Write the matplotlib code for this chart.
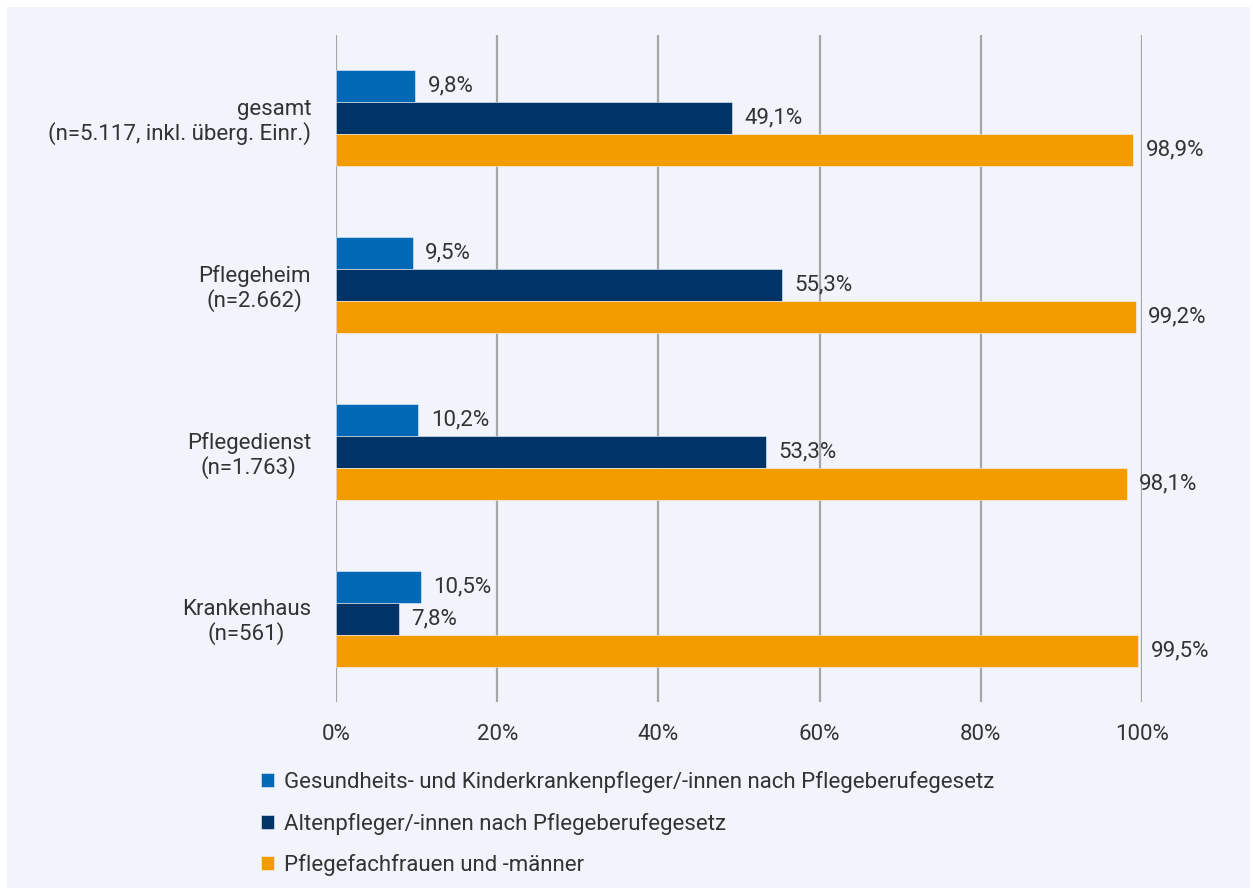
import matplotlib.pyplot as plt
from matplotlib.patches import Rectangle
import numpy as np

# data
categories = ['gesamt\n(n=5.117, inkl. überg. Einr.)', 'Pflegeheim\n(n=2.662)',
              'Pflegedienst\n(n=1.763)', 'Krankenhaus\n(n=561)']
gkp = [9.8, 9.5, 10.2, 10.5]
alten = [49.1, 55.3, 53.3, 7.8]
fach = [98.9, 99.2, 98.1, 99.5]
series_names = ['Gesundheits- und Kinderkrankenpfleger/-innen nach Pflegeberufegesetz',
                'Altenpfleger/-innen nach Pflegeberufegesetz',
                'Pflegefachfrauen und -männer']
colors = ['#0068b4', '#003366', '#f39c00']
xticks = [0, 20, 40, 60, 80, 100]

plt.rcParams['font.family'] = ['Roboto', 'DejaVu Sans']
plt.rcParams['font.size'] = 16
txt = '#333333'
bg = '#f1f4fb'

fig = plt.figure(figsize=(12.53, 8.93), dpi=100, facecolor='white')
fig.patches.append(Rectangle((7 / 1253, 5 / 893), 1243 / 1253, 881 / 893,
                             transform=fig.transFigure, facecolor=bg,
                             edgecolor='none', zorder=-10))

ax = fig.add_axes([336 / 1253, 1 - 702 / 893, 806 / 1253, 667 / 893])
ax.set_facecolor(bg)
ax.patch.set_alpha(0)

y = np.arange(len(categories))
h = 0.192
for i, (vals, c) in enumerate(zip([gkp, alten, fach], colors)):
    pos = y + (i - 1) * h
    bars = ax.barh(pos, vals, height=h, color=c, label=series_names[i],
                   edgecolor='#f1f4fb', linewidth=0.4, zorder=3)
    labels = [f'{v:.1f}%'.replace('.', ',') for v in vals]
    ax.bar_label(bars, labels=labels, padding=9, color=txt, fontsize=16)

ax.set_xlim(0, 100)
ax.set_ylim(3.5, -0.5)
ax.set_xticks(xticks)
ax.set_xticklabels([f'{t}%' for t in xticks], color=txt)
ax.set_yticks(y)
ax.set_yticklabels(categories, color=txt, linespacing=1.1)
for i, lab in enumerate(ax.get_yticklabels()):
    lab.set_multialignment('right' if i == 0 else 'center')
ax.tick_params(axis='both', length=0)
ax.tick_params(axis='x', pad=16)
ax.tick_params(axis='y', pad=18)
ax.grid(axis='x', color='#a6a6a6', linewidth=1.6, zorder=0)
for s in ax.spines.values():
    s.set_visible(False)

fig.legend(loc='upper left', bbox_to_anchor=(261 / 1253, 1 - 771 / 893),
           frameon=False, handlelength=0.6, handleheight=0.6, handletextpad=0.45,
           labelspacing=0.88, labelcolor=txt, borderaxespad=0, borderpad=0)

fig.savefig('out.png', dpi=100, facecolor='white')
